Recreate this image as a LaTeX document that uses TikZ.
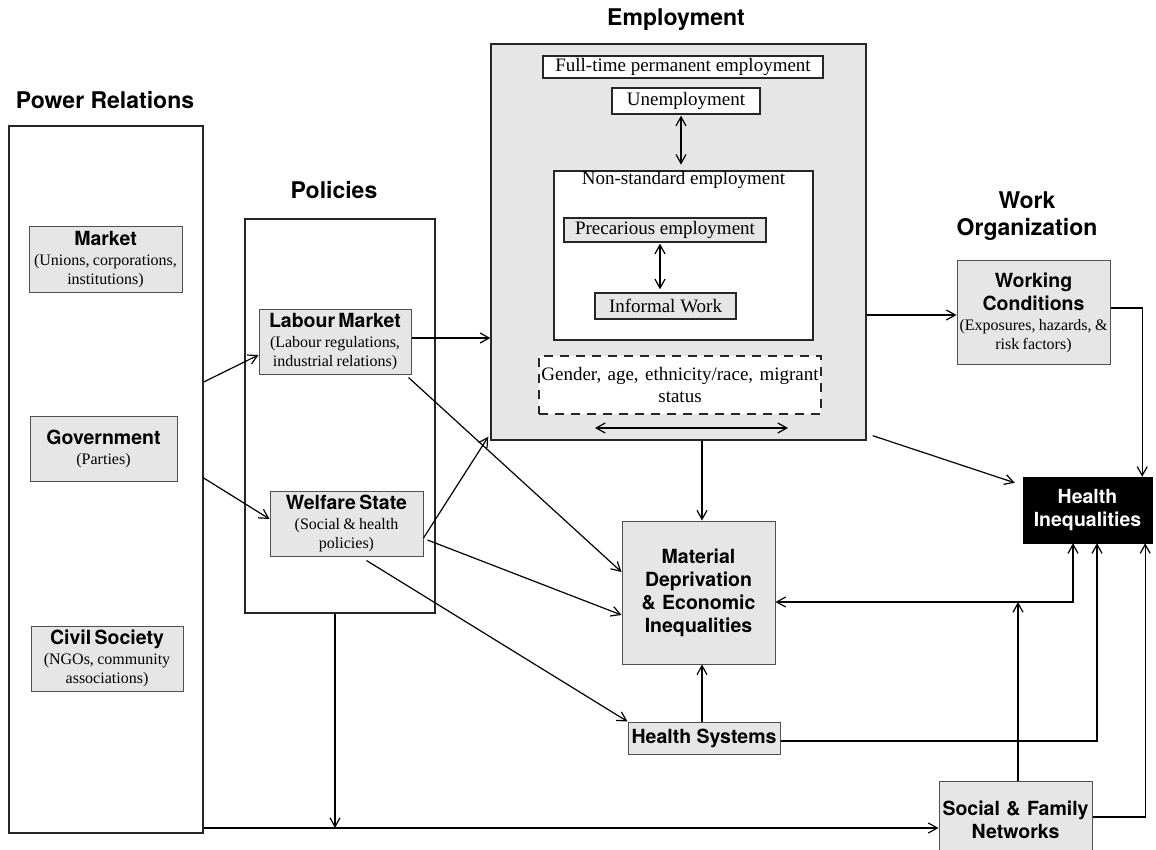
\documentclass[tikz,border=0pt]{standalone}
\usepackage{fontspec}
\setmainfont{Liberation Serif}
\newfontfamily\sansf{TeX Gyre Heros}
\usetikzlibrary{arrows.meta,calc}
\definecolor{boxgray}{HTML}{E6E6E6}
\definecolor{edgegray}{HTML}{505050}
\newcommand\myhead{\sansf\bfseries\fontsize{23}{27}\selectfont}
\newcommand\mytitle{\sansf\bfseries\fontsize{19.5}{23}\selectfont}
\newcommand\mysub{\rmfamily\fontsize{16}{19}\selectfont}
\newcommand\myemp{\rmfamily\fontsize{19}{22}\selectfont}
\tikzset{
  >={Straight Barb[length=9pt,width=10pt]},
  head/.style={font=\myhead, align=center, inner sep=0pt},
  frame/.style={draw=black!85, line width=1.4pt, fill=white, inner sep=0pt},
  gbox/.style={draw=edgegray, line width=1pt, fill=boxgray, inner sep=0pt, align=center},
  wbox/.style={draw=black!85, line width=1.3pt, fill=white, inner sep=0pt, align=center, font=\myemp},
  gebox/.style={draw=black!85, line width=1.3pt, fill=boxgray, inner sep=0pt, align=center, font=\myemp},
  conn/.style={line width=1.2pt, ->},
  both/.style={line width=1.2pt, <->}
}
\begin{document}
\begin{tikzpicture}[x=1pt,y=-1pt]
\useasboundingbox (0,0) rectangle (1156,850);
\fill[white] (0,0) rectangle (1156,850);

% headings
\node[head] (hpr) at (105,100) {Power Relations};
\node[head] (hpol) at (334,190) {Policies};
\node[head] (hemp) at (676,20) {Employment};
\node[head] (hwork) at (1027,216) {Work\\Organization};

% power relations
\node[frame, minimum width=194pt, minimum height=707pt] (pr) at (106,479.5) {};
\node[gbox, minimum width=153pt, minimum height=65pt, text width=151pt] (market) at (105.5,259.5)
  {{\mytitle Market\par}\vspace{1pt}{\mysub (Unions, corporations,\\ institutions)\par}};
\node[gbox, minimum width=147pt, minimum height=65pt, text width=145pt] (govt) at (103.5,448.5)
  {{\mytitle Government\par}\vspace{1pt}{\mysub (Parties)\par}};
\node[gbox, minimum width=152pt, minimum height=65pt, text width=150pt] (civil) at (107,658.5)
  {{\mytitle Civil Society\par}\vspace{1pt}{\mysub (NGOs, community\\ associations)\par}};

% policies
\node[frame, minimum width=190pt, minimum height=394pt] (pol) at (340,416) {};
\node[gbox, minimum width=152pt, minimum height=65pt, text width=150pt] (labour) at (335,341.5)
  {{\mytitle Labour Market\par}\vspace{1pt}{\mysub (Labour regulations,\\ industrial relations)\par}};
\node[gbox, minimum width=153pt, minimum height=65pt, text width=151pt] (welfare) at (346.5,523.5)
  {{\mytitle Welfare State\par}\vspace{1pt}{\mysub (Social \& health\\ policies)\par}};

% employment
\node[draw=black!85, line width=1.4pt, fill=boxgray, minimum width=375pt, minimum height=396pt, inner sep=0pt] (emp) at (678.5,242) {};
\node[wbox, minimum width=280pt, minimum height=22pt] (fulltime) at (683,67) {Full-time permanent employment};
\node[wbox, minimum width=148pt, minimum height=26pt] (unemp) at (686,101) {Unemployment};
\node[wbox, minimum width=259pt, minimum height=169pt,
  label={[font=\myemp, anchor=north, inner sep=1pt]north:Non-standard employment}] (nonstd) at (683.5,255.5) {};
\node[gebox, minimum width=202pt, minimum height=24pt] (prec) at (665,230) {Precarious employment};
\node[gebox, minimum width=141pt, minimum height=26pt] (informal) at (665.5,306) {Informal Work};
\node[draw=black!85, line width=1.3pt, dash pattern=on 9pt off 7pt, fill=white, inner sep=0pt,
  minimum width=282pt, minimum height=58pt, text width=280pt, align=center, font=\myemp] (demo) at (680,385)
  {Gender, age, ethnicity/race, migrant\\ status};
\coordinate (ha) at (595,428);
\coordinate (hb) at (788,428);
\draw[both] (ha) -- (hb);
\draw[both] ([xshift=-5pt,yshift=-1pt]unemp.south) -- ++(0,49);
\draw[both] ([xshift=-5pt,yshift=-1pt]prec.south) -- ([xshift=-5.5pt,yshift=3pt]informal.north);

% work organization
\node[gbox, minimum width=153pt, minimum height=103pt, text width=151pt] (workcond) at (1033.5,312.5)
  {{\mytitle Working\\ Conditions\par}\vspace{1pt}{\mysub (Exposures, hazards, \&\\ risk factors)\par}};

% health inequalities
\node[fill=black, draw=black, minimum width=129pt, minimum height=66pt, text width=127pt, inner sep=0pt,
  align=center, text=white, font=\mytitle] (hi) at (1087.5,510) {Health\\ Inequalities};

% material deprivation
\node[gbox, minimum width=153pt, minimum height=143pt, text width=151pt, font=\mytitle] (material) at (698.5,592.5)
  {Material\\ Deprivation\\ \& Economic\\ Inequalities};

% health systems
\node[gbox, minimum width=152pt, minimum height=32pt, font=\mytitle] (hs) at (704,738) {Health Systems};

% social & family networks
\node[gbox, minimum width=153pt, minimum height=77pt, text width=151pt, font=\mytitle] (social) at (1015.5,819.5)
  {Social \& Family\\ Networks};

% connectors
\draw[conn] (pr.east |- 0,382) -- (labour.west |- 0,355);
\draw[conn] (pr.east |- 0,478) -- (welfare.west |- 0,519);
\draw[conn] (labour.east |- 0,338) -- (emp.west |- 0,338);
\draw[conn] ([shift={(-3pt,-3pt)}]labour.south east) -- (material.west |- 0,572);
\draw[conn] (welfare.east |- 0,538) -- ([shift={(-2pt,4pt)}]emp.south west);
\draw[conn] ([xshift=4pt]welfare.east |- 0,540) -- (material.west |- 0,615);
\draw[conn] ([shift={(20pt,-4pt)}]welfare.south) -- (hs.north west);

\coordinate (bl) at (pr.east |- 0,828);
\draw[conn] ([xshift=-5pt]pol.south) -- ([xshift=-5pt]pol.south |- bl);
\draw[conn] (bl) -- (social.west |- bl);

\draw[conn] (emp.east |- 0,315) -- (workcond.west |- 0,315);
\draw[conn] (workcond.east |- 0,308) -| ([xshift=-10pt]hi.north east);
\draw[conn] ([shift={(6pt,5pt)}]emp.south east) -- ([shift={(-8pt,-6pt)}]hi.north west);

\coordinate (mx) at ([xshift=3.5pt]material.north);
\draw[conn] (emp.south -| mx) -- (mx);
\draw[conn] (hs.north -| mx) -- (material.south -| mx);

\draw[conn] (hs.east |- 0,741) -| ([xshift=9.5pt]hi.south);
\coordinate (J) at (1018,602);
\draw[conn] ([xshift=2.5pt]social.north) -- (J);
\draw[conn] (J) -- (material.east |- J);
\draw[conn] (J) -| ([xshift=-14.5pt]hi.south);
\draw[conn] (social.east |- 0,817) -| ([xshift=-7pt]hi.south east);
\end{tikzpicture}
\end{document}
